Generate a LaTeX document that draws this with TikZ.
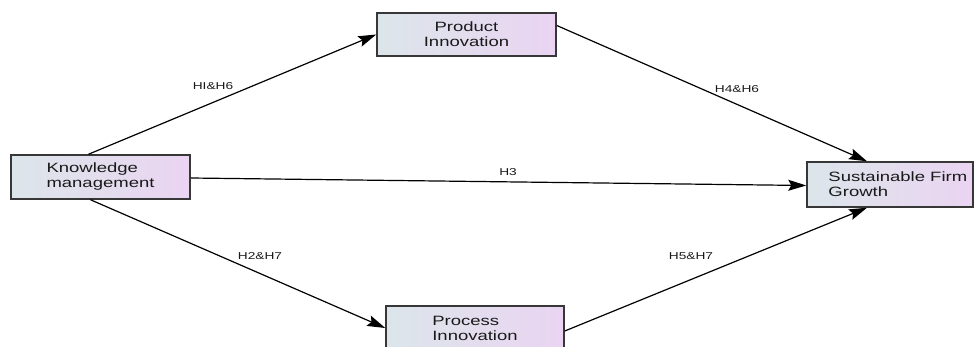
\documentclass[tikz,border=0pt]{standalone}
\usepackage{fontspec}
\setmainfont{Liberation Sans}[FakeStretch=1.37]
\usetikzlibrary{arrows.meta}
\definecolor{boxleft}{RGB}{220,230,234}
\definecolor{boxright}{RGB}{234,212,242}
\definecolor{boxline}{RGB}{55,55,55}
\definecolor{txtcol}{RGB}{25,25,25}
\tikzset{
  box/.style={draw=boxline, line width=1.5pt, left color=boxleft, right color=boxright,
    inner sep=0pt, text=txtcol, font=\fontsize{13.5}{15}\selectfont},
  boxtext/.style={inner sep=0pt, text=txtcol, font=\fontsize{13.5}{15}\selectfont},
  conn/.style={draw=black, line width=1.2pt, -{Stealth[length=18pt,width=11pt,inset=3pt]}},
  lab/.style={inner sep=0pt, text=txtcol, font=\fontsize{10}{12}\selectfont}
}
\begin{document}
\begin{tikzpicture}[x=1pt,y=1pt]
\useasboundingbox (0,0) rectangle (974,346);
\clip (0,0) rectangle (974,346);
% boxes (y measured upward: Y = 346 - y_image)
\node[box, minimum width=179pt, minimum height=44pt, align=left] (km) at (100.5,169) {Knowledge\\management};
\node[box, minimum width=179pt, minimum height=43pt, align=center] (pi) at (466.5,311.5) {Product\\Innovation};
\node[box, minimum width=166pt, minimum height=45pt] (sfg) at (890,161.5) {};
\node[boxtext, anchor=west, align=left] (sfgt) at ([xshift=22pt]sfg.west) {Sustainable Firm\\Growth};
\node[box, minimum width=178pt, minimum height=44pt, align=left] (pr) at (475,18) {Process\\Innovation};
% connectors
\draw[conn] ([xshift=-12pt]km.north) -- (pi.west);
\draw[conn] ([yshift=9pt]pi.east) -- ([xshift=-23pt]sfg.north);
\draw[conn] ([yshift=-1pt]km.east) -- ([yshift=-1pt]sfg.west);
\draw[conn] ([xshift=-10pt]km.south) -- (pr.west);
\draw[conn] ([yshift=-3pt]pr.east) -- ([xshift=-23pt]sfg.south);
% labels
\node[lab] (l1) at (213,260) {HI\&H6};
\node[lab] (l2) at (737,256.5) {H4\&H6};
\node[lab] (l3) at (508,174) {H3};
\node[lab] (l4) at (260,89.5) {H2\&H7};
\node[lab] (l5) at (691,89.5) {H5\&H7};
\end{tikzpicture}
\end{document}
